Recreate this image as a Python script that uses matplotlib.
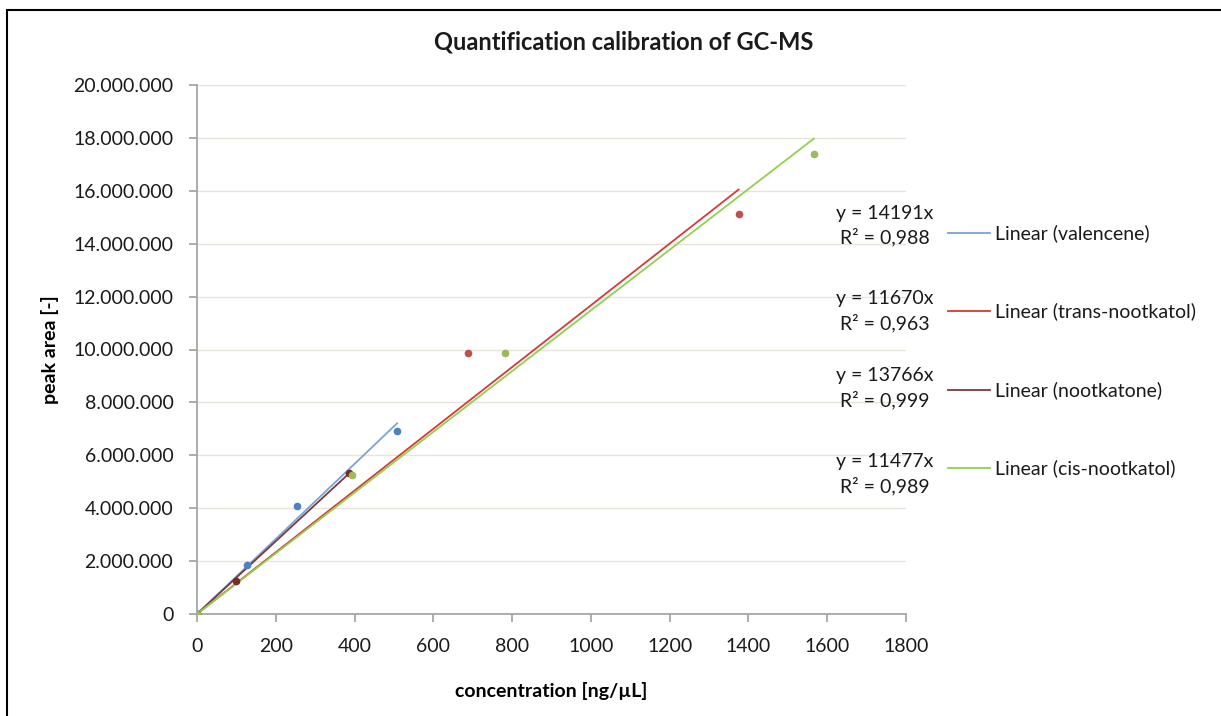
import matplotlib
matplotlib.use("Agg")
import matplotlib.pyplot as plt
from matplotlib.patches import Rectangle
from matplotlib.ticker import FuncFormatter
import numpy as np

plt.rcParams['font.family'] = ['Lato', 'DejaVu Sans']

# Data (concentration ng/µL, peak area)
val_x = [0, 127, 254, 508]
val_y = [0, 1850000, 4070000, 6920000]
trans_x = [0, 688, 1375]
trans_y = [0, 9870000, 15120000]
noot_x = [0, 99, 386]
noot_y = [0, 1250000, 5320000]
cis_x = [0, 393, 782, 1566]
cis_y = [0, 5260000, 9870000, 17380000]

slopes = [14191, 11670, 13766, 11477]
r2 = ["0,988", "0,963", "0,999", "0,989"]
names = ["Linear (valencene)", "Linear (trans-nootkatol)", "Linear (nootkatone)", "Linear (cis-nootkatol)"]
pt_colors = ["#4F81BD", "#C0504D", "#772C2A", "#9BBB59"]
ln_colors = ["#7BA3D6", "#D43A36", "#7A3B3B", "#92D050"]

W, H = 1221, 716
fig = plt.figure(figsize=(W/100, H/100), dpi=100)
ax = fig.add_axes([197/W, 1-614/H, (906-197)/W, (614-85)/H])

series = [(val_x, val_y), (trans_x, trans_y), (noot_x, noot_y), (cis_x, cis_y)]
# trendlines
for (xs, ys), s, c in zip(series, slopes, ln_colors):
    xe = np.array([0, max(xs)])
    ax.plot(xe, s*xe, color=c, lw=1.3, zorder=2)
for (xs, ys), c in zip(series, pt_colors):
    ax.plot(xs, ys, 'o', color=c, ms=4.5, mec=c, zorder=3)

ax.set_xlim(0, 1800)
ax.set_ylim(0, 20000000)
ax.set_xticks(np.arange(0, 1801, 200))
ax.set_yticks(np.arange(0, 20000001, 2000000))
ax.yaxis.set_major_formatter(FuncFormatter(lambda v, p: f"{int(v):,}".replace(",", ".")))
ax.grid(axis='y', color='#E8E4DA', lw=1)
ax.set_axisbelow(True)
for sp in ['top', 'right']:
    ax.spines[sp].set_visible(False)
for sp in ['left', 'bottom']:
    ax.spines[sp].set_color('#A0A0A0')
    ax.spines[sp].set_linewidth(1.2)
ax.tick_params(axis='both', colors='#A0A0A0', length=6, width=1.2, labelcolor='#1a1a1a', labelsize=14)
ax.tick_params(axis='x', pad=11)
ax.tick_params(axis='y', pad=11)

ax.set_xlabel("concentration [ng/µL]", fontsize=14, fontweight='bold', labelpad=20)
ax.set_ylabel("peak area [-]", fontsize=14, fontweight='bold', labelpad=10)
fig.text(624/W, 1-42/H, "Quantification calibration of GC-MS", ha='center', va='center',
         fontsize=17, fontweight='bold', color='#1a1a1a')

# trendline labels and legend
eq_y = [213, 299, 376, 462]
leg_y = [233, 311, 390, 468]
for i in range(4):
    fig.text(885/W, 1-eq_y[i]/H, f"y = {slopes[i]}x", ha='center', va='center', fontsize=14, color='#1a1a1a')
    fig.text(885/W, 1-(eq_y[i]+24)/H, f"R² = {r2[i]}", ha='center', va='center', fontsize=14, color='#1a1a1a')
    fig.add_artist(plt.Line2D([948/W, 990/W], [1-leg_y[i]/H]*2, color=ln_colors[i], lw=1.3))
    fig.text(995/W, 1-leg_y[i]/H, names[i], ha='left', va='center', fontsize=14, color='#1a1a1a')

# chart frame
fig.add_artist(Rectangle((6.5/W, -0.1), 1.2, 1.1 - 10.5/H, transform=fig.transFigure,
                         fill=False, ec='black', lw=1.5, clip_on=False))

fig.savefig("out.png", dpi=100)
